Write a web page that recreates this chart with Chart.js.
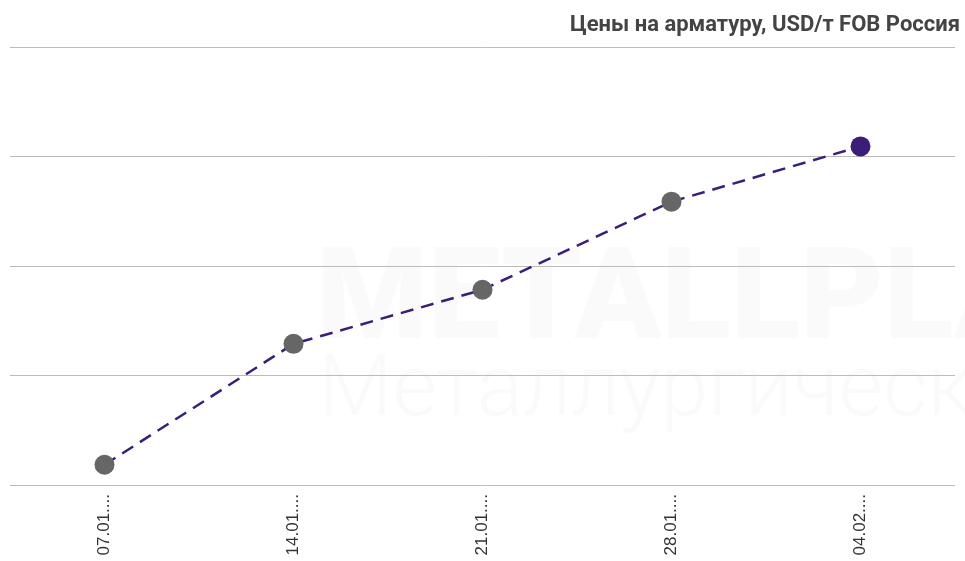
<!DOCTYPE html>
<html>
<head>
<meta charset="utf-8">
<script src="https://cdn.jsdelivr.net/npm/chart.js@4"></script>
<style>
html, body { margin: 0; padding: 0; background: #fff; }
#wrap { width: 965px; height: 561px; }
</style>
</head>
<body>
<div id="wrap"><canvas id="chart"></canvas></div>
<script>
var dates = ['07.01....', '14.01....', '21.01....', '28.01....', '04.02....'];
var prices = [603.7, 625.8, 635.7, 651.8, 661.9];
var pointColors = ['#666666', '#666666', '#666666', '#666666', '#3a1e78'];

// faint watermark behind the chart
var watermark = {
    id: 'watermark',
    beforeDraw: function(chart) {
        var c = chart.ctx;
        c.save();
        c.fillStyle = '#fafafa';
        c.textBaseline = 'alphabetic';
        c.font = '900 128px Roboto';
        c.fillText('METALLPLANT', 316, 338);
        c.font = '300 86px Roboto';
        c.fillText('Металлургический', 318, 415);
        c.restore();
    }
};

function createLineChart()
{
var ctx = document.getElementById("chart");
var chart = new Chart(ctx, {
    type: 'line',
    data: {
        labels: dates,
        datasets: [{
            label: 'Цены',
            data: prices,
            borderColor: '#3a1e78',
            borderWidth: 2.5,
            borderDash: [13, 8],
            tension: 0,
            pointRadius: 10,
            pointHoverRadius: 10,
            pointBackgroundColor: pointColors,
            pointBorderColor: pointColors,
            pointBorderWidth: 0
        }]
    },
    options: {
        responsive: true,
        maintainAspectRatio: false,
        animation: false,
        layout: { padding: { left: 10, right: 5, top: 4, bottom: 0 } },
        plugins: {
            legend: { display: false },
            tooltip: { enabled: false },
            title: {
                display: true,
                text: 'Цены на арматуру, USD/т FOB Россия',
                align: 'end',
                color: '#444444',
                font: { family: 'Roboto', size: 22, weight: 'bold' },
                padding: { top: 8, bottom: 9 }
            }
        },
        scales: {
            x: {
                offset: true,
                grid: { display: false, drawTicks: false },
                border: { display: false },
                afterFit: function(scale) { scale.height = 76; },
                ticks: {
                    minRotation: 90,
                    maxRotation: 90,
                    autoSkip: false,
                    padding: 9,
                    color: '#333333',
                    font: { family: 'Liberation Sans', size: 17 }
                }
            },
            y: {
                min: 600,
                max: 680,
                ticks: { stepSize: 20, display: false },
                grid: { color: '#bbbbbb', lineWidth: 1, drawTicks: false },
                border: { display: false }
            }
        }
    },
    plugins: [watermark]
});
}
createLineChart();
</script>
</body>
</html>
